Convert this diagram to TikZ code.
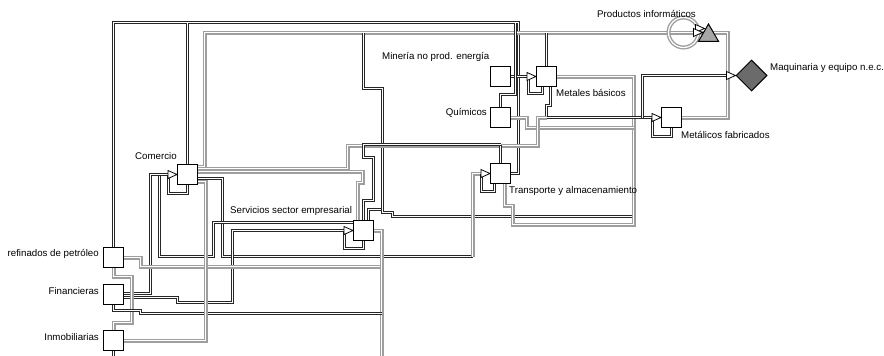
\documentclass[tikz,border=0pt]{standalone}
\usepackage{fontspec}
\setmainfont{Liberation Sans}
\usetikzlibrary{shapes.geometric,calc}
\tikzset{
 bl/.style={draw=black!85, line width=1pt, double=white, double distance=1pt},
 gr/.style={draw=black!38, line width=1.4pt, double=white, double distance=1.2pt},
 box/.style={draw, line width=1pt, fill=white, minimum size=20pt, inner sep=0pt},
 lbl/.style={font=\fontsize{9.7}{11}\selectfont, inner sep=0pt},
}
\newcommand\optip[1]{\draw[line width=0.8pt, fill=white, line join=miter] ($#1+(-9,-4)$) -- #1 -- ($#1+(-9,4)$) -- cycle;}
\begin{document}
\begin{tikzpicture}[x=1pt,y=-1pt]
\fill[white] (0,0) rectangle (884,356);
\useasboundingbox (0,0) rectangle (884,356);
\begin{scope}[shift={(0.5,0.5)}]
% nodes (placed first for anchors; redrawn later on top)
\path (187,174) node[box] (com) {}
      (363,230) node[box] (ser) {}
      (113,257) node[box] (ref) {}
      (113,294) node[box] (fin) {}
      (113,340) node[box] (inm) {}
      (500,76) node[box] (min) {}
      (546,76) node[box] (met) {}
      (500,117) node[box] (qui) {}
      (500,173) node[box] (tra) {}
      (671,117) node[box] (mfa) {};
% connectors
\draw[bl] (ref.north) |- (518,22) |- (tra.east);
\draw[bl] (com.north) -- (com.north|-0,22);
\draw[gr] (com.east|-0,166) -- (204,166) -- (204,32) -- (727,32) |- (mfa.east);
\draw[gr] (683,32) circle (15);
\draw[bl] (363,32) |- (382,88) -- (382,209) -| (ser.north-|368,0);
\draw[bl] (382,150) |- (392,212) |- (633,216);
\draw[bl] (min.east) -- ($(met.west)+(-9,0)$);
\draw[bl] (met.south-|542,0) -- (542,93) -- (528,93) -- (528,76);
\draw[bl] (met.north) -- (met.north|-0,32);
\draw[gr] (met.east) -- (633,76) -- (633,224) -- (512,224) -- (512,205) -- (504,205) -- (tra.south-|504,0);
\draw[bl] (qui.north) |- (515,94) -- (515,22);
\draw[gr] (qui.east) -| (526,127) -- (633,127);
\draw[bl] (met.south-|550,0) |- (546,105) -- (546,117) -- ($(mfa.west)+(-9,0)$);
\draw[bl] (642,117) |- (726,75);
\draw[bl] (mfa.south-|671,0) |- (652,136) -- (652,117);
\draw[gr] (com.east|-0,168) -| (347,145) -| (537,117) -- (546,117);
\draw[bl] (tra.north) -- (tra.north|-0,144);
\draw[bl] (ser.north-|363,0) -- (363,200) -- (373,200) -- (373,157) -- (363,157) -- (363,144) -- (500,144);
\draw[gr] (com.east|-0,171) -- (362,171) |- (357,182) -- (ser.north-|357,0);
\draw[bl] (com.east|-0,178) -| (222,256) -- (472,256);
\draw[gr] (472,256) |- ($(tra.west)+(-9,0)$);
\draw[bl] (ser.west|-0,222) -| (213,256) -| (159,174) -- (168,174);
\draw[bl] (fin.east|-0,293) -| (150,174) -- (168,174);
\draw[bl] (com.south) |- (168,193) -- (168,174);
\draw[bl] (fin.east|-0,297) -| (177,302) -| (232,230) -- ($(ser.west)+(-9,0)$);
\draw[gr] (ref.east) -| (140,266) -- (381,266);
\draw[gr] (ser.east) -| (381,356);
\draw[gr] (ref.south) |- (131,276) |- (113,322) -- (inm.north);
\draw[bl] (fin.south) |- (140,310) |- (381,313);
\draw[gr] (com.east|-0,181) -| (205,340) -- (inm.east);
\draw[bl] (inm.south) -- (113,356);
\draw[bl] (ser.south) |- (344,248) -- (344,230);
\draw[bl] (tra.south-|494,0) |- (481,191) -- (481,173);
% boxes on top
\path (187,174) node[box] {}
      (363,230) node[box] {}
      (113,257) node[box] {}
      (113,294) node[box] {}
      (113,340) node[box] {}
      (500,76) node[box] {}
      (546,76) node[box] {}
      (500,117) node[box] {}
      (500,173) node[box] {}
      (671,117) node[box] {};
\node[diamond, draw, line width=1pt, fill=black!58, minimum width=31pt, minimum height=31pt, inner sep=0pt] (maq) at (751,75) {};
\node[regular polygon, regular polygon sides=3, draw, line width=1pt, fill=black!35, minimum size=23pt, inner sep=0pt] (pro) at (708,35) {};
% arrow tips
\optip{(met.west)}
\optip{(mfa.west)}
\optip{(maq.west)}
\optip{(tra.west)}
\optip{(com.west)}
\optip{(ser.west)}
\optip{(704,28)}
\optip{(702,32)}
\end{scope}
% labels
\node[lbl, anchor=west] (lpro) at (597,14) {Productos informáticos};
\node[lbl, anchor=west] (lmin) at (382,57) {Minería no prod. energía};
\node[lbl, anchor=west] (lmet) at (556,93) {Metales básicos};
\node[lbl, anchor=east] (lqui) at (487,113) {Químicos};
\node[lbl, anchor=west] (lmfa) at (681,135) {Metálicos fabricados};
\node[lbl, anchor=west] (lmaq) at (770,68) {Maquinaria y equipo n.e.c.};
\node[lbl, anchor=west] (lcom) at (135,156) {Comercio};
\node[lbl, anchor=west] (lser) at (230,211) {Servicios sector empresarial};
\node[lbl, anchor=west] (ltra) at (509,191) {Transporte y almacenamiento};
\node[lbl, anchor=east] (lref) at (99,254) {refinados de petróleo};
\node[lbl, anchor=east] (lfin) at (99,291) {Financieras};
\node[lbl, anchor=east] (linm) at (99,337) {Inmobiliarias};
\end{tikzpicture}
\end{document}
